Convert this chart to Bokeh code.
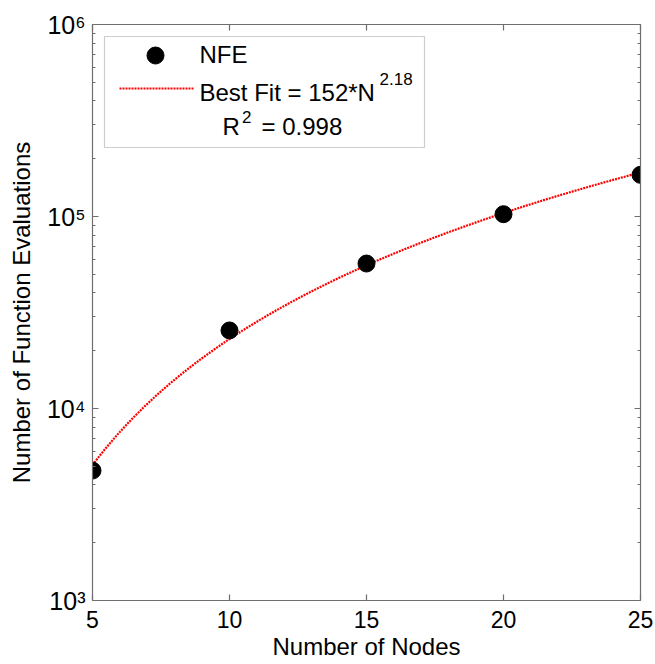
import numpy as np
from bokeh.plotting import figure
from bokeh.models import Range1d, FixedTicker, LinearAxis, LogAxis, Label, BoxAnnotation
from bokeh.embed import file_html
from bokeh.resources import INLINE

# ---- data ----
nodes = [5, 10, 15, 20, 25]
nfe = [4750, 25500, 56900, 102800, 164800]
fit_coef = 152
fit_exp = 2.18
r_squared = "0.998"
x_ticks = [5, 10, 15, 20, 25]
y_decades = [3, 4, 5, 6]
y_tick_labels = ["10\u00b3", "10\u2074", "10\u2075", "10\u2076"]
x_label = "Number of Nodes"
y_label = "Number of Function Evaluations"

# best-fit curve as given in the legend: 152 * N^2.18
fit_n = np.linspace(nodes[0], nodes[-1], 121)
fit_y = fit_coef * fit_n ** fit_exp

# ---- layout ----
W, H = 655, 664
BL, BR, BT, BB = 92, 15, 24, 64
FW, FH = W - BL - BR, H - BT - BB
X0, X1 = 5, 25
D0, D1 = y_decades[0], y_decades[-1]
FONT = "Liberation Sans"
AX = "#6e6e6e"

p = figure(width=W, height=H, x_range=Range1d(X0, X1), y_range=Range1d(10 ** D0, 10 ** D1),
           y_axis_type="log", output_backend="svg", toolbar_location=None,
           min_border_left=BL, min_border_right=BR, min_border_top=BT, min_border_bottom=BB)
p.background_fill_color = "white"
p.border_fill_color = "white"
p.outline_line_color = None
p.xgrid.visible = False
p.ygrid.visible = False

y_major = [10 ** d for d in y_decades]
xt = FixedTicker(ticks=x_ticks, minor_ticks=[])
yt = FixedTicker(ticks=y_major,
                 minor_ticks=[m * 10 ** d for d in y_decades[:-1] for m in range(2, 10)])


def style(ax):
    ax.axis_line_color = AX
    ax.axis_line_width = 1.2
    ax.major_tick_in = 6
    ax.major_tick_out = 0
    ax.minor_tick_in = 3
    ax.minor_tick_out = 0
    ax.major_tick_line_color = AX
    ax.minor_tick_line_color = AX
    ax.major_tick_line_width = 1.2
    ax.minor_tick_line_width = 1.2


def hide_labels(ax, ticks):
    ax.major_label_overrides = {t: " " for t in ticks}
    ax.major_label_text_font_size = "8px"
    ax.major_label_text_color = None
    ax.major_label_standoff = 0


xa = p.xaxis[0]
xa.ticker = xt
style(xa)
xa.major_label_text_font = FONT
xa.major_label_text_font_size = "23px"
xa.major_label_text_color = "black"
xa.major_label_standoff = 10
xa.axis_label = x_label
xa.axis_label_text_font = FONT
xa.axis_label_text_font_size = "24px"
xa.axis_label_text_font_style = "normal"
xa.axis_label_text_color = "black"
xa.axis_label_standoff = 2

ya = p.yaxis[0]
ya.ticker = yt
style(ya)
ya.major_label_overrides = {t: s for t, s in zip(y_major, y_tick_labels)}
ya.major_label_text_font = FONT
ya.major_label_text_font_size = "25px"
ya.major_label_text_color = "black"
ya.major_label_standoff = 7
ya.axis_label = y_label
ya.axis_label_text_font = FONT
ya.axis_label_text_font_size = "24px"
ya.axis_label_text_font_style = "normal"
ya.axis_label_text_color = "black"
ya.axis_label_standoff = 9

top = LinearAxis(ticker=xt)
style(top)
hide_labels(top, x_ticks)
p.add_layout(top, "above")
right = LogAxis(ticker=yt)
style(right)
hide_labels(right, y_major)
p.add_layout(right, "right")

# data
p.line(fit_n, fit_y, line_color="#ff0000", line_width=2.2, line_dash="2 1")
p.scatter(nodes, nfe, size=17, marker="circle", fill_color="black", line_color="black")


# helpers: pixel position in the frame -> data
def px2x(px):
    return X0 + (px - BL) / FW * (X1 - X0)


def py2y(py):
    return 10 ** (D0 + (BT + FH - py) / FH * (D1 - D0))


def lab(text, px, py, size, align="left"):
    p.add_layout(Label(x=X0, y=10 ** D0, x_offset=px - BL, y_offset=(BT + FH) - py,
                       text=text, text_font=FONT, text_font_size=size, text_color="black",
                       text_align=align, text_baseline="alphabetic"))


# legend
p.add_layout(BoxAnnotation(left=px2x(104), right=px2x(424), top=py2y(36), bottom=py2y(147),
                           fill_color=None, line_color="#555555", line_width=1.2))
p.scatter([px2x(155)], [py2y(55)], size=17, marker="circle", fill_color="black", line_color="black")
p.line([px2x(119), px2x(193)], [py2y(88), py2y(88)], line_color="#ff0000", line_width=2.2, line_dash="2 1")
lab("NFE", 199, 54, "24px")
lab("Best Fit = 152*N", 199, 91.5, "24px")
lab("2.18", 379, 78, "17px")
lab("R", 222, 126, "24px")
lab("2", 241.5, 116, "17px")
lab("= " + r_squared, 261, 126, "24px")

open("out.html", "w").write(file_html(p, INLINE))
